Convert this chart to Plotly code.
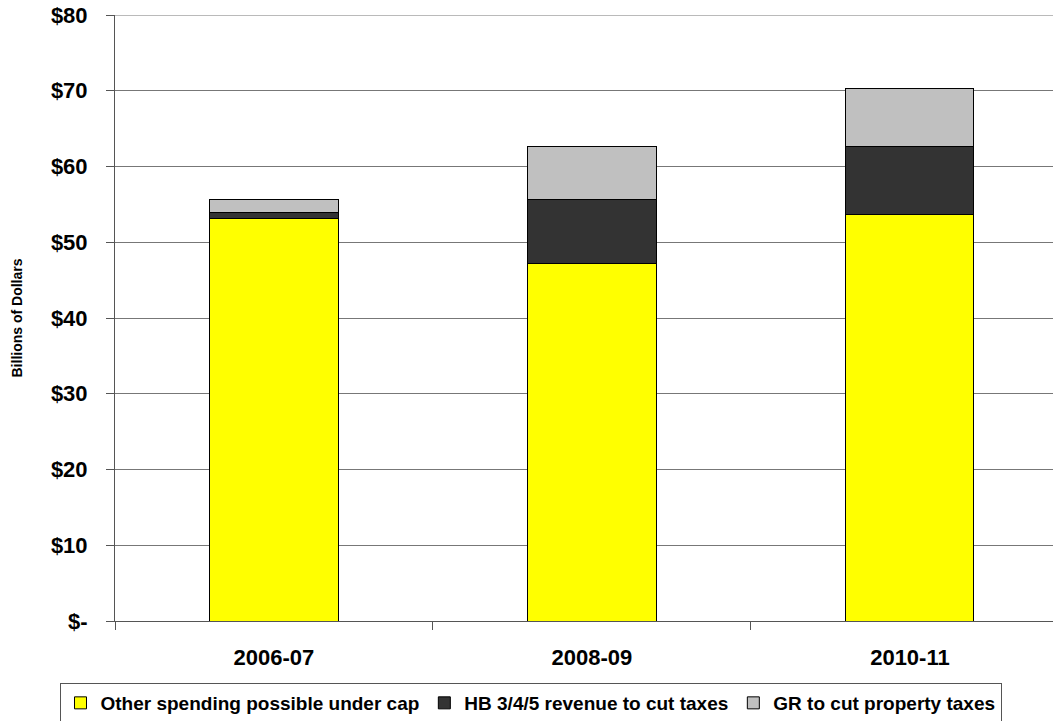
import plotly.graph_objects as go

categories = ["2006-07", "2008-09", "2010-11"]
other_spending = [53.1, 47.2, 53.6]
hb_revenue = [0.8, 8.5, 9.1]
gr_property = [1.7, 6.9, 7.6]
series_names = ["Other spending possible under cap", "HB 3/4/5 revenue to cut taxes", "GR to cut property taxes"]
y_tick_vals = [0, 10, 20, 30, 40, 50, 60, 70, 80]
y_tick_text = ["$-", "$10", "$20", "$30", "$40", "$50", "$60", "$70", "$80"]
y_title = "Billions of Dollars"

FONT = "Arial, Liberation Sans, sans-serif"
colors = ["#FFFF00", "#333333", "#C0C0C0"]

W, H = 1061, 721

fig = go.Figure()
for name, vals, col in zip(series_names, [other_spending, hb_revenue, gr_property], colors):
    fig.add_trace(go.Bar(
        x=categories, y=vals, name=name,
        marker=dict(color=col, line=dict(color="#000000", width=1)),
    ))

fig.update_layout(
    barmode="stack",
    bargap=0.597,
    width=W, height=H,
    margin=dict(l=115, r=8, t=15, b=100, autoexpand=False),
    paper_bgcolor="white", plot_bgcolor="white",
    font=dict(family=FONT, color="#000000"),
    showlegend=True,
    legend=dict(
        orientation="h",
        xref="container", yref="container",
        x=0.5, xanchor="center",
        y=1 - 683 / H, yanchor="top",
        bordercolor="#555555", borderwidth=1,
        font=dict(family=FONT, size=19, color="#000000", weight="bold"),
        itemwidth=30,
        tracegroupgap=0,
        traceorder="normal",
    ),
    xaxis=dict(
        type="category",
        range=[-0.5, 2.45],
        automargin=False,
        showgrid=False,
        showline=True, linecolor="#555555", linewidth=1,
        ticks="outside", ticklen=8, tickcolor="#555555",
        tickson="boundaries",
        tickfont=dict(family=FONT, size=22, color="#000000", weight="bold"),
        ticklabelstandoff=17,
    ),
    yaxis=dict(
        range=[0, 80],
        automargin=False,
        tickvals=y_tick_vals, ticktext=y_tick_text,
        showgrid=True, gridcolor="#777777", gridwidth=1,
        showline=True, linecolor="#555555", linewidth=1,
        ticks="outside", ticklen=8, tickcolor="#555555",
        tickfont=dict(family=FONT, size=22, color="#000000", weight="bold"),
        ticklabelstandoff=14,
        zeroline=False,
    ),
    shapes=[dict(
        type="line", xref="paper", yref="y", x0=0, x1=1, y0=80, y1=80,
        line=dict(color="#777777", width=1), layer="below",
    )],
    annotations=[dict(
        text=y_title, xref="paper", yref="paper", x=-0.105, y=0.5,
        xanchor="center", yanchor="middle", textangle=-90, showarrow=False,
        font=dict(family=FONT, size=14, weight="bold", color="#000000"),
    )],
)

fig.write_html(
    "out.html",
    config={"displayModeBar": False},
    post_script="document.body.style.margin='0';document.body.style.overflow='hidden';",
)
